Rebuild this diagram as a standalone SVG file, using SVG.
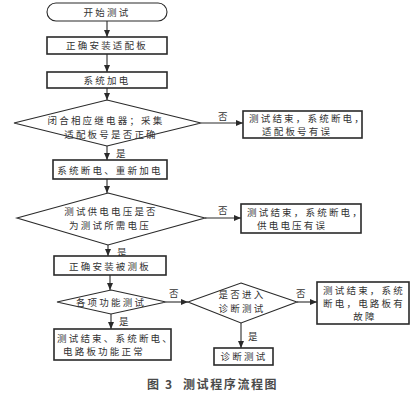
<svg xmlns="http://www.w3.org/2000/svg" width="416" height="400" viewBox="0 0 416 400">
<style>
.bx{fill:#fff;stroke:#2a2a2a;stroke-width:1.6}
.dm{fill:#fff;stroke:#2a2a2a;stroke-width:1.1}
.tm{fill:#fff;stroke:#2a2a2a;stroke-width:1.1}
.t{font-family:"Noto Sans CJK SC","Noto Sans",sans-serif;font-size:9.5px;fill:#333;letter-spacing:2.2px}
.c{text-anchor:middle}
.ln{stroke:#2a2a2a;stroke-width:1.1;fill:none;marker-end:url(#ah)}
.cap{font-family:"Noto Sans CJK SC","Noto Sans",sans-serif;font-size:12px;fill:#4a4a4a;font-weight:bold;letter-spacing:1.6px}
</style>
<defs>
<marker id="ah" markerWidth="8" markerHeight="6" refX="7" refY="3" orient="auto" markerUnits="userSpaceOnUse">
<path d="M0,0 L7,3 L0,6 Z" fill="#2a2a2a"/>
</marker>
</defs>
<rect width="416" height="400" fill="#fff"/>
<g id="connectors">
<line class="ln" x1="107" y1="21" x2="107" y2="37"/>
<line class="ln" x1="107" y1="54" x2="107" y2="72"/>
<line class="ln" x1="107" y1="88" x2="107" y2="100"/>
<line class="ln" x1="201" y1="123" x2="243" y2="123"/>
<line class="ln" x1="107" y1="146" x2="107" y2="160"/>
<line class="ln" x1="107" y1="179" x2="107" y2="193"/>
<line class="ln" x1="205" y1="218" x2="241" y2="218"/>
<line class="ln" x1="108" y1="245" x2="108" y2="256"/>
<line class="ln" x1="110" y1="275" x2="110" y2="290"/>
<line class="ln" x1="166" y1="302" x2="188" y2="302"/>
<line class="ln" x1="297" y1="302" x2="317" y2="302"/>
<line class="ln" x1="111" y1="314" x2="111" y2="329"/>
<line class="ln" x1="241" y1="323" x2="241" y2="348"/>
<text class="t" x="218" y="120">否</text>
<text class="t" x="116" y="157">是</text>
<text class="t" x="218" y="214">否</text>
<text class="t" x="117" y="256">是</text>
<text class="t" x="169" y="297">否</text>
<text class="t" x="296" y="297">否</text>
<text class="t" x="119" y="325">是</text>
<text class="t" x="248" y="340">是</text>
</g>
<g id="start">
<rect class="tm" x="47" y="3" width="120" height="18" rx="9"/>
<text class="t c" x="107" y="15.5">开始测试</text>
</g>
<g id="install-adapter">
<rect class="bx" x="47" y="37" width="120" height="17"/>
<text class="t c" x="107" y="49">正确安装适配板</text>
</g>
<g id="power-on">
<rect class="bx" x="47" y="72" width="120" height="16"/>
<text class="t c" x="107" y="83.5">系统加电</text>
</g>
<g id="check-adapter">
<polygon class="dm" points="107,100 201,123 107,146 14,123"/>
<text class="t c" x="106" y="124">闭合相应继电器；采集</text>
<text class="t c" x="111" y="137.5">适配板号是否正确</text>
</g>
<g id="adapter-error">
<rect class="bx" x="243" y="111" width="119" height="27"/>
<text class="t" x="249" y="121.5">测试结束，系统断电，</text>
<text class="t" x="262" y="135">适配板号有误</text>
</g>
<g id="repower">
<rect class="bx" x="53" y="160" width="114" height="19"/>
<text class="t c" x="110" y="173.5">系统断电、重新加电</text>
</g>
<g id="check-voltage">
<polygon class="dm" points="108,193 205,218 108,245 17,218"/>
<text class="t c" x="111" y="215">测试供电电压是否</text>
<text class="t c" x="110" y="229">为测试所需电压</text>
</g>
<g id="voltage-error">
<rect class="bx" x="241" y="204" width="120" height="29"/>
<text class="t" x="247" y="215.5">测试结束，系统断电，</text>
<text class="t" x="257" y="229">供电电压有误</text>
</g>
<g id="install-board">
<rect class="bx" x="54" y="256" width="112" height="19"/>
<text class="t c" x="110" y="269.5">正确安装被测板</text>
</g>
<g id="function-test">
<polygon class="dm" points="111,290 166,302 111,314 57,302"/>
<text class="t c" x="111" y="305.5">各项功能测试</text>
</g>
<g id="enter-diagnosis">
<polygon class="dm" points="241,283 297,302 241,323 188,302"/>
<text class="t c" x="242" y="298">是否进入</text>
<text class="t c" x="242" y="311.5">诊断测试</text>
</g>
<g id="board-fault">
<rect class="bx" x="317" y="282" width="92" height="42"/>
<text class="t c" x="364" y="294">测试结束，系统</text>
<text class="t c" x="364" y="307">断电，电路板有</text>
<text class="t c" x="365" y="320">故障</text>
</g>
<g id="board-ok">
<rect class="bx" x="54" y="329" width="117" height="31"/>
<text class="t" x="57" y="341.5">测试结束、系统断电、</text>
<text class="t" x="63" y="355">电路板功能正常</text>
</g>
<g id="diagnosis">
<rect class="bx" x="214" y="348" width="59" height="17"/>
<text class="t c" x="244" y="360">诊断测试</text>
</g>
<g id="caption">
<text class="cap" x="147" y="389">图 3</text>
<text class="cap" x="183" y="389">测试程序流程图</text>
</g>
</svg>
